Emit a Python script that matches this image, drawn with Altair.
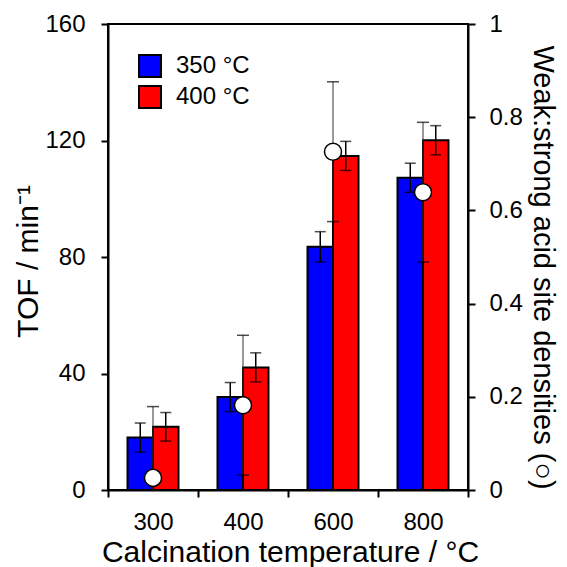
import altair as alt
import pandas as pd

# ---- data ----
temps = ["300", "400", "600", "800"]
series = ["350 °C", "400 °C"]
tof_350 = [18.0, 31.9, 83.5, 107.2]
err_350 = [5.0, 5.0, 5.2, 5.0]
tof_400 = [21.7, 42.1, 114.7, 120.1]
err_400 = [4.9, 5.0, 5.0, 5.0]
ratio = [0.026, 0.182, 0.726, 0.639]
ratio_err = [0.153, 0.150, 0.150, 0.150]

# ---- tables ----
rows, caps = [], []
for s, vals, errs in [(series[0], tof_350, err_350), (series[1], tof_400, err_400)]:
    for t, v, e in zip(temps, vals, errs):
        rows.append({"temp": t, "series": s, "tof": v, "lo": v - e, "hi": v + e})
        caps.append({"temp": t, "series": s, "v": v - e})
        caps.append({"temp": t, "series": s, "v": v + e})
bars_df = pd.DataFrame(rows)
caps_df = pd.DataFrame(caps)

rrows, rcaps = [], []
for t, r, e in zip(temps, ratio, ratio_err):
    lo = max(r - e, 0.0)
    rrows.append({"temp": t, "ratio": r, "rlo": lo, "rhi": r + e})
    rcaps.append({"temp": t, "rv": r + e})
    if r - e > 0:
        rcaps.append({"temp": t, "rv": r - e})
ratio_df = pd.DataFrame(rrows)
rcaps_df = pd.DataFrame(rcaps)

FONT = "Liberation Sans"
TITLE_SIZE = 30

x_axis = alt.Axis(
    title="Calcination temperature / °C", labelAngle=0, tickBand="extent",
    labelFontSize=24, labelPadding=13, tickSize=7, tickWidth=2, tickColor="black",
    domainColor="black", domainWidth=2, titleFontSize=TITLE_SIZE, titleFontWeight="normal",
    titleX=182, titleY=71, titleBaseline="alphabetic", titleAlign="center",
)
x_enc = alt.X("temp:N", sort=temps, scale=alt.Scale(paddingInner=0, paddingOuter=0), axis=x_axis)
xoff = alt.XOffset("series:N", sort=series,
                   scale=alt.Scale(domain=series, paddingInner=0, paddingOuter=0.765))

left_axis = alt.Axis(
    title="TOF / min⁻¹", values=[0, 40, 80, 120, 160], grid=False,
    labelFontSize=24, labelPadding=16, tickSize=7, tickWidth=2, tickColor="black",
    domainColor="black", domainWidth=2, titleFontSize=TITLE_SIZE, titleFontWeight="normal",
    titleAngle=270, titleX=-80, titleY=237, titleBaseline="middle", titleAlign="center",
)
left_scale = alt.Scale(domain=[0, 160], nice=False, zero=True)

right_axis = alt.Axis(
    title="Weak:strong acid site densities (○)", orient="right",
    values=[0, 0.2, 0.4, 0.6, 0.8, 1], labelExpr="format(datum.value, '~g')", grid=False,
    labelFontSize=24, labelPadding=14, tickSize=7, tickWidth=2, tickColor="black",
    domainColor="black", domainWidth=2, titleFontSize=29, titleFontWeight="normal",
    titleAngle=90, titleX=65, titleY=243, titleBaseline="alphabetic", titleAlign="center",
)
right_scale = alt.Scale(domain=[0, 1], nice=False, zero=True)

bars = alt.Chart(bars_df).mark_bar(stroke="black", strokeWidth=2).encode(
    x=x_enc, xOffset=xoff,
    y=alt.Y("tof:Q", scale=left_scale, axis=left_axis),
    color=alt.Color(
        "series:N", sort=series,
        scale=alt.Scale(domain=series, range=["#0000ff", "#ff0000"]),
        legend=alt.Legend(
            title=None, orient="none", legendX=30, legendY=30,
            symbolType="square", symbolSize=484, symbolStrokeColor="black",
            symbolStrokeWidth=2, symbolOpacity=1, labelFontSize=24, labelOffset=14,
            rowPadding=1, padding=0,
        ),
    ),
)
bar_err = alt.Chart(bars_df).mark_rule(color="black", strokeWidth=1.5).encode(
    x=x_enc, xOffset=xoff,
    y=alt.Y("lo:Q", scale=left_scale, axis=left_axis), y2="hi:Q",
)
bar_caps = alt.Chart(caps_df).mark_tick(color="black", thickness=1.5, size=11, orient="horizontal").encode(
    x=x_enc, xOffset=xoff,
    y=alt.Y("v:Q", scale=left_scale, axis=left_axis),
)
left = alt.layer(bars, bar_err, bar_caps)

r_err = alt.Chart(ratio_df).mark_rule(color="#333333", strokeWidth=1).encode(
    x=x_enc, y=alt.Y("rlo:Q", scale=right_scale, axis=right_axis), y2="rhi:Q",
)
r_caps = alt.Chart(rcaps_df).mark_tick(color="black", thickness=1.5, size=12, orient="horizontal").encode(
    x=x_enc, y=alt.Y("rv:Q", scale=right_scale, axis=right_axis),
)
r_pts = alt.Chart(ratio_df).mark_point(
    shape="circle", filled=True, fill="white", stroke="black", strokeWidth=1.5,
    size=290, opacity=1,
).encode(
    x=x_enc, y=alt.Y("ratio:Q", scale=right_scale, axis=right_axis),
)
right = alt.layer(r_err, r_caps, r_pts)

chart = (
    alt.layer(left, right)
    .resolve_scale(y="independent")
    .properties(
        width=360, height=466,
        autosize=alt.AutoSizeParams(type="none"),
        padding={"left": 100, "top": 16, "right": 91, "bottom": 80},
    )
    .configure(font=FONT)
    .configure_view(stroke="black", strokeWidth=2)
    .configure_axis(labelColor="black", titleColor="black")
    .configure_legend(labelColor="black")
)

chart.save("out.html", embed_options={"renderer": "svg", "actions": False})
